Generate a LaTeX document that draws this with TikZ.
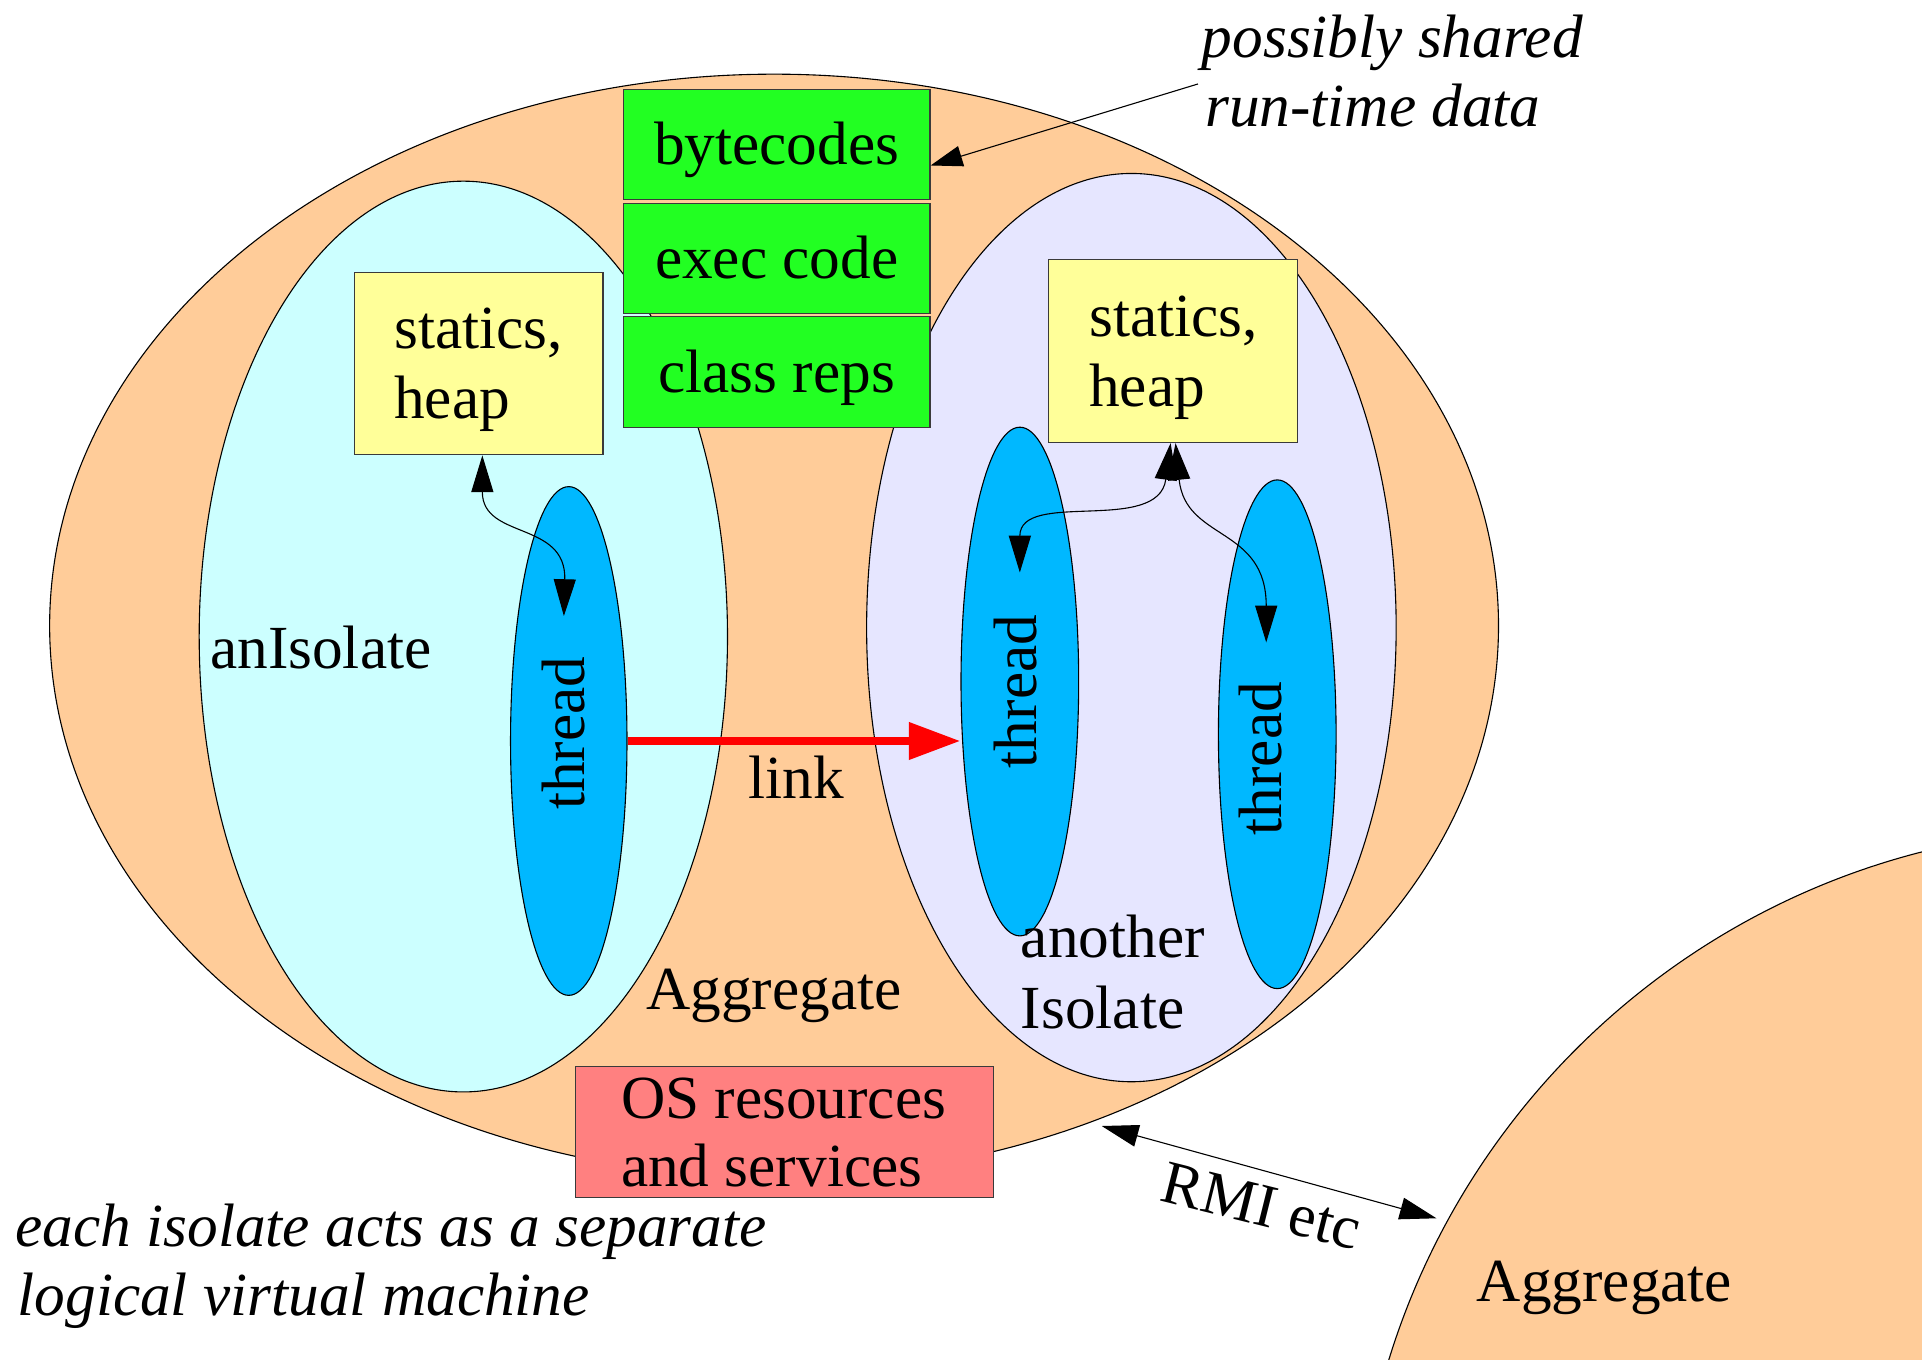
\documentclass[tikz,border=0pt]{standalone}
\usepackage{fontspec}
\setmainfont{Liberation Serif}
\usetikzlibrary{shapes.geometric,arrows.meta}

\definecolor{aggpeach}{HTML}{FFCC99}
\definecolor{isoone}{HTML}{CCFFFF}
\definecolor{isotwo}{HTML}{E6E6FF}
\definecolor{sharedgreen}{HTML}{22FF22}
\definecolor{heapyellow}{HTML}{FFFF99}
\definecolor{threadblue}{HTML}{00B8FF}
\definecolor{osred}{HTML}{FF8080}
\definecolor{boxline}{HTML}{3A3A3A}

\begin{document}
\begin{tikzpicture}[x=1pt,y=-1pt,
  outline/.style={draw=black, line width=0.9pt},
  blob/.style={ellipse, outline, inner sep=0pt},
  bigfont/.style={font=\fontsize{50}{56}\selectfont},
  boxbase/.style={rectangle, draw=boxline, line width=1pt, inner sep=0pt},
  sharedbox/.style={boxbase, bigfont, fill=sharedgreen, minimum width=250pt,
                    text height=38pt, text depth=5pt},
  heapbox/.style={boxbase, fill=heapyellow, minimum width=203pt, minimum height=149pt},
  osbox/.style={boxbase, fill=osred, minimum width=341pt, minimum height=106.6pt},
  lbl/.style={bigfont, inner sep=0pt, anchor=base west},
  note/.style={lbl, font=\fontsize{50}{56}\selectfont\itshape},
  vlbl/.style={lbl, rotate=90},
  onearrow/.style={line width=0.9pt, -{Triangle[length=26pt,width=17pt]}},
  dbl/.style={line width=0.9pt, {Triangle[length=30pt,width=18pt]}-{Triangle[length=30pt,width=18pt]}},
  linkarrow/.style={red, line width=6.8pt, -{Triangle[length=42pt,width=29pt]}}
]
\useasboundingbox (0,0) rectangle (1568,1109);

% the aggregate and its two isolates
\node[blob, fill=aggpeach, minimum width=1182pt, minimum height=900pt] (agg) at (631.5,510.5) {};
\node[blob, fill=isoone, minimum width=431pt, minimum height=743pt] (isoA) at (378,519.3) {};
\node[blob, fill=isotwo, minimum width=432pt, minimum height=741pt] (isoB) at (923,512) {};

% run-time data that may be shared
\node[sharedbox, minimum height=90pt] (bc) at (633.7,118) {bytecodes};
\node[sharedbox, minimum height=90pt] (ec) at (633.7,211) {exec code};
\node[sharedbox, minimum height=91pt] (cr) at (633.7,303.5) {class reps};

% per-isolate statics and heap
\node[heapbox] (heapA) at (390.5,296.5) {};
\node[lbl] (heapAa) at (321.4,284.7) {statics,};
\node[lbl] (heapAb) at (321.4,341.8) {heap};
\node[heapbox] (heapB) at (957,286.5) {};
\node[lbl] (heapBa) at (888.4,274.7) {statics,};
\node[lbl] (heapBb) at (888.4,331.8) {heap};

% threads
\node[blob, fill=threadblue, minimum width=95pt, minimum height=415pt] (thrA) at (464,604.5) {};
\node[blob, fill=threadblue, minimum width=96pt, minimum height=415pt] (thrB) at (832,556) {};
\node[blob, fill=threadblue, minimum width=96pt, minimum height=415pt] (thrC) at (1042,599) {};
\node[vlbl] (thrAt) at (477.2,660.8) {thread};
\node[vlbl] (thrBt) at (845.7,626.8) {thread};
\node[vlbl] (thrCt) at (1045.2,681.5) {thread};

% heap access from the threads
\draw[dbl] ([xshift=3pt]heapA.south) .. controls +(0,69) and +(2,-78) .. ([xshift=-4pt,yshift=-106pt]thrA.north);
\draw[dbl] ([xshift=-2pt]heapB.south) .. controls +(-10,75) and +(0,-68) .. ([yshift=-119pt]thrB.north);
\draw[dbl] ([xshift=2pt]heapB.south) .. controls +(8,80) and +(0,-95) .. ([xshift=-9pt,yshift=-133pt]thrC.north);

% link between isolates
\draw[linkarrow] (thrA.east) -- (thrA.east -| thrB.west);
\node[lbl] (linkt) at (610.6,651.3) {link};

% labels inside the aggregate
\node[lbl] (isoAt) at (171.3,545.2) {anIsolate};
\node[lbl] (aggt) at (527,823.8) {Aggregate};
\node[lbl] (isoBa) at (832.7,781) {another};
\node[lbl] (isoBb) at (832.7,839) {Isolate};

% operating system resources
\node[osbox] (os) at (639.85,923.5) {};
\node[lbl] (osa) at (506.5,912.3) {OS resources};
\node[lbl] (osb) at (506.5,968.1) {and services};

% note on shared data
\coordinate (psFrom) at (977.3,68.5);
\draw[onearrow] (psFrom) -- ([yshift=-17pt]bc.east);
\node[note] (psa) at (980.3,47) {possibly shared};
\node[note] (psb) at (983,103.3) {run-time data};

% note on isolates
\node[note] (vma) at (12.6,1016.5) {each isolate acts as a separate};
\node[note] (vmb) at (14.3,1072.8) {logical virtual machine};

% a neighbouring aggregate
\begin{scope}
  \clip (0,0) rectangle (1568,1109);
  \node[circle, outline, fill=aggpeach, minimum size=1228pt, inner sep=0pt] (agg2) at (1720,1290) {};
\end{scope}
\node[lbl] (agg2t) at (1204.7,1062) {Aggregate};

% remote calls between aggregates
\coordinate (rmiL) at (898.8,918.6);
\coordinate (rmiR) at (1171.9,993.9);
\draw[dbl] (rmiL) -- (rmiR);
\node[lbl, rotate=-14] (rmit) at (944.9,979.5) {RMI etc};
\end{tikzpicture}
\end{document}
